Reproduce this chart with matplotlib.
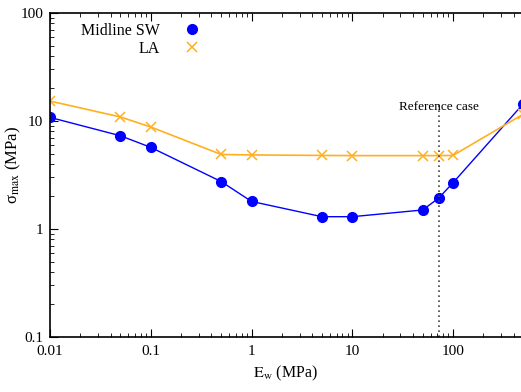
import matplotlib
matplotlib.use("Agg")
import matplotlib.pyplot as plt

plt.rcParams['font.family'] = ['Liberation Serif', 'DejaVu Serif']
plt.rcParams['mathtext.fontset'] = 'stix'

ew = [0.01, 0.05, 0.1, 0.5, 1, 5, 10, 50, 72, 100, 500]
midline_sw = [10.8, 7.3, 5.7, 2.75, 1.8, 1.3, 1.3, 1.5, 1.93, 2.68, 14.5]
la = [15.3, 10.9, 8.8, 4.9, 4.85, 4.8, 4.78, 4.78, 4.78, 4.8, 11.6]
ref_case = 72

fig = plt.figure(figsize=(5.21, 3.92), dpi=100)
ax = fig.add_axes([50/521, 55/392, 471/521, 324/392])

ax.plot(ew, midline_sw, '-o', color='#0000ff', lw=1, ms=7, label='Midline SW')
ax.plot(ew, la, '-x', color='#ffb020', lw=1.2, ms=7, mew=1.1, label='LA')

ax.axvline(ref_case, ymin=0, ymax=0.72, color='#444444', lw=1.2, ls=(0, (1, 2)))
ax.text(ref_case, 11.9, 'Reference case', ha='center', va='bottom', fontsize=9.5)

ax.set_xscale('log')
ax.set_yscale('log')
ax.set_xlim(0.01, 473)
ax.set_ylim(0.1, 100)
ax.set_xticks([0.01, 0.1, 1, 10, 100])
ax.set_xticklabels(['0.01', '0.1', '1', '10', '100'])
ax.set_yticks([0.1, 1, 10, 100])
ax.set_yticklabels(['0.1', '1', '10', '100'])

ax.spines['right'].set_visible(False)
for s in ['left', 'bottom', 'top']:
    ax.spines[s].set_linewidth(1.2)
ax.tick_params(which='both', direction='in', top=True, right=False, labelsize=11)
ax.tick_params(axis='y', pad=5)
ax.tick_params(axis='x', pad=6)
ax.tick_params(which='major', length=6)
ax.tick_params(which='minor', length=3)

ax.set_xlabel(r'$\mathrm{E_w}$ (MPa)', fontsize=11.5, labelpad=4)
ax.set_ylabel(r'σ$_{\mathrm{max}}$ (MPa)', fontsize=12)
ax.yaxis.set_label_coords(-0.058, 0.53)

leg = ax.legend(loc='upper left', bbox_to_anchor=(0.035, 1.015), frameon=False, fontsize=11.5,
                markerfirst=False, handlelength=1.2, labelspacing=0.15, handletextpad=1.4)
for t in leg.get_texts():
    t.set_ha('right')
leg._legend_box.align = 'right'
for h in leg.legend_handles:
    h.set_linestyle('none')

fig.savefig('out.png', dpi=100)
